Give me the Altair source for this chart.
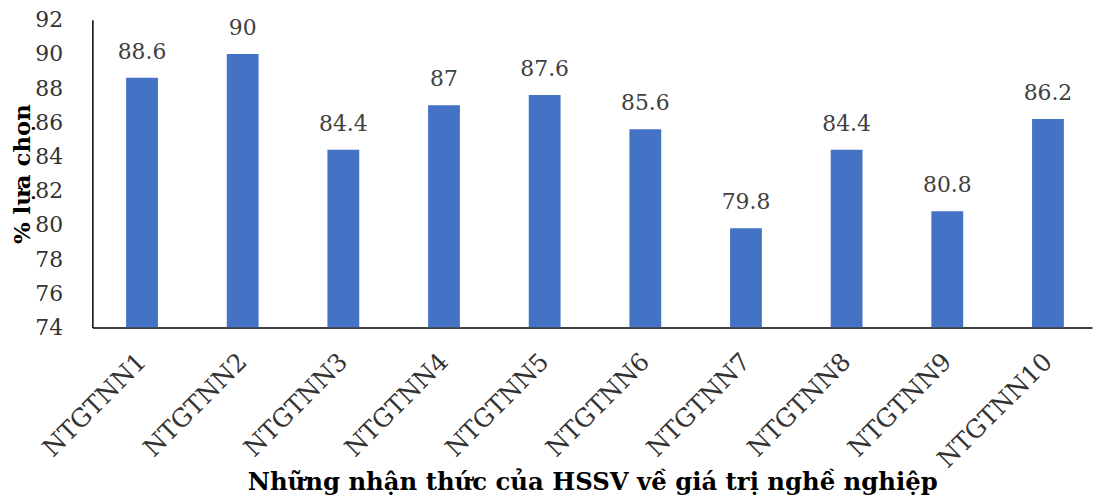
import altair as alt
import pandas as pd

categories = ["NTGTNN1", "NTGTNN2", "NTGTNN3", "NTGTNN4", "NTGTNN5",
              "NTGTNN6", "NTGTNN7", "NTGTNN8", "NTGTNN9", "NTGTNN10"]
values = [88.6, 90, 84.4, 87, 87.6, 85.6, 79.8, 84.4, 80.8, 86.2]
y_ticks = [74, 76, 78, 80, 82, 84, 86, 88, 90, 92]

df = pd.DataFrame({"cat": categories, "val": values})
df["lbl"] = [f"{v:g}" for v in values]

SERIF = "DejaVu Serif"

x_enc = alt.X(
    "cat:N", sort=categories,
    scale=alt.Scale(paddingInner=0.684, paddingOuter=0.3075, align=0.545),
    axis=alt.Axis(
        title="Những nhận thức của HSSV về giá trị nghề nghiệp",
        labelAngle=-45, labelAlign="right", labelBaseline="middle",
        labelFont=SERIF, labelFontSize=25, labelColor="#333333",
        labelPadding=30, ticks=False, domainColor="#000000", domainWidth=1.5,
        labelOverlap=False,
        titleFont=SERIF, titleFontSize=24.5, titleFontWeight="bold", titleColor="#000000",
        titleY=163, titleBaseline="alphabetic", grid=False,
    ),
)
y_enc = alt.Y(
    "val:Q",
    scale=alt.Scale(domain=[74, 92], nice=False, zero=False),
    axis=alt.Axis(
        title="% lựa chọn", values=y_ticks, labelOverlap=False, tickCount=10,
        labelFont=SERIF, labelFontSize=22, labelColor="#333333",
        labelPadding=30, ticks=False, domainColor="#000000", domainWidth=1.5,
        titleFont=SERIF, titleFontSize=23, titleFontWeight="bold", titleColor="#000000",
        titleX=-70, titleY=155, titleAngle=-90, titleAlign="center", titleBaseline="middle",
        grid=False,
    ),
)

bars = alt.Chart(df).mark_bar(color="#4472C4", clip=True).encode(
    x=x_enc, y=y_enc, y2=alt.datum(74),
)
text = alt.Chart(df).mark_text(
    font=SERIF, fontSize=22, color="#404040", baseline="bottom", dy=-14
).encode(x=x_enc, y=y_enc, text="lbl:N")

chart = alt.layer(bars, text).properties(
    width=1007, height=310,
    autosize=alt.AutoSizeParams(type="none"),
    padding={"left": 85, "top": 10, "right": 2, "bottom": 172},
).configure_view(stroke=None).configure_axis(labelOverlap=False)

chart.save("out.html", embed_options={"renderer": "svg", "actions": False})
